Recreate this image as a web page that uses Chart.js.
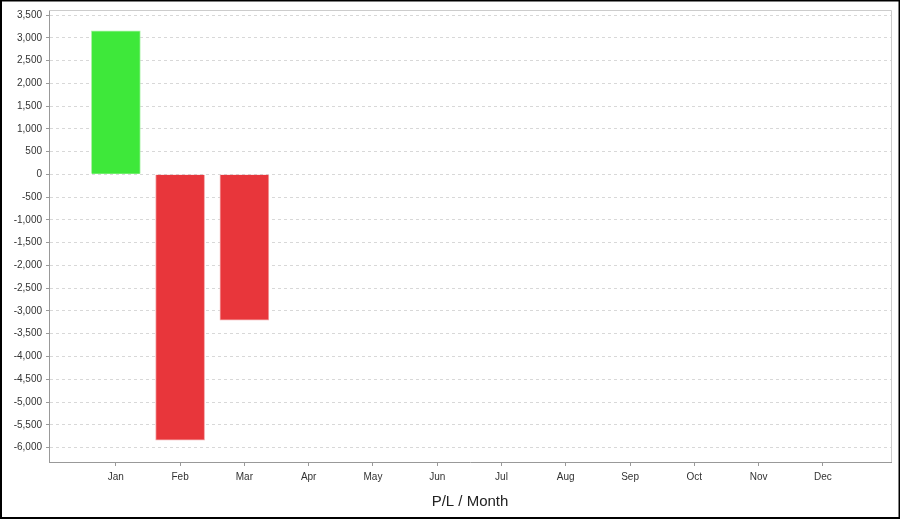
<!DOCTYPE html>
<html>
<head>
<meta charset="utf-8">
<script src="https://cdn.jsdelivr.net/npm/chart.js@4"></script>
<style>
  html, body { margin: 0; padding: 0; background: #fff; }
  #wrap { width: 900px; height: 519px; position: relative; }
</style>
</head>
<body>
<div id="wrap"><canvas id="chart" width="900" height="519"></canvas></div>
<script>
// Datos del gráfico
const months = ["Jan", "Feb", "Mar", "Apr", "May", "Jun", "Jul", "Aug", "Sep", "Oct", "Nov", "Dec"];
const plValues = [3150, -5840, -3200, null, null, null, null, null, null, null, null, null];
const yTicks = [-6000, -5500, -5000, -4500, -4000, -3500, -3000, -2500, -2000, -1500, -1000, -500,
                0, 500, 1000, 1500, 2000, 2500, 3000, 3500];
const axisTitle = "P/L / Month";

const green = "#3ee83a";
const red = "#e8363b";

// Puntos {x, y} para la escala lineal del eje X
const points = plValues.map((v, i) => ({ x: i, y: v }));
const colors = plValues.map(v => (v >= 0 ? green : red));
const borders = plValues.map(v => (v >= 0 ? "#a8f3a6" : "#f3a9ab"));

// Marco de la gráfica y borde exterior
const framePlugin = {
  id: "frame",
  afterDraw(chart) {
    const { ctx, chartArea: a } = chart;
    ctx.save();
    ctx.strokeStyle = "#cccccc";
    ctx.lineWidth = 1;
    ctx.beginPath();
    ctx.moveTo(a.left, a.top + 0.5);
    ctx.lineTo(a.right + 0.5, a.top + 0.5);
    ctx.lineTo(a.right + 0.5, a.bottom);
    ctx.stroke();
    ctx.strokeStyle = "#000";
    ctx.lineWidth = 2;
    ctx.strokeRect(1, 0.5, chart.width - 1.5, chart.height - 1.5);
    ctx.restore();
  }
};

new Chart(document.getElementById("chart"), {
  type: "bar",
  data: {
    datasets: [{
      label: axisTitle,
      data: points,
      backgroundColor: colors,
      borderColor: borders,
      borderWidth: 1,
      barThickness: 49
    }]
  },
  options: {
    responsive: false,
    animation: false,
    layout: { padding: { top: 8, right: 9, left: 0, bottom: 0 } },
    plugins: { legend: { display: false }, tooltip: { enabled: false } },
    scales: {
      x: {
        type: "linear",
        offset: false,
        min: -1.04,
        max: 12.06,
        afterBuildTicks: s => { s.ticks = months.map((m, i) => ({ value: i })); },
        afterFit: s => { s.height = 57; },
        ticks: {
          autoSkip: false,
          maxRotation: 0,
          padding: 5,
          color: "#333",
          font: { family: "Liberation Sans, Arial", size: 10 },
          callback: v => months[v]
        },
        grid: { offset: false, drawOnChartArea: false, drawTicks: true, tickLength: 4, tickColor: "#999" },
        border: { color: "#999", width: 1 },
        title: {
          display: true,
          text: axisTitle,
          color: "#222",
          font: { family: "Liberation Sans, Arial", size: 15 },
          padding: { top: 8, bottom: 8 }
        }
      },
      y: {
        min: -6317,
        max: 3610,
        afterBuildTicks: s => { s.ticks = yTicks.map(v => ({ value: v })); },
        afterFit: s => { s.width = 49; },
        ticks: {
          padding: 4,
          color: "#333",
          font: { family: "Liberation Sans, Arial", size: 10 },
          callback: v => v.toLocaleString("en-US")
        },
        grid: {
          color: "#d8d8d8",
          tickColor: "#999",
          tickLength: 3,
          drawTicks: true
        },
        border: { color: "#999", width: 1, dash: [3, 3] }
      }
    }
  },
  plugins: [framePlugin]
});
</script>
</body>
</html>
